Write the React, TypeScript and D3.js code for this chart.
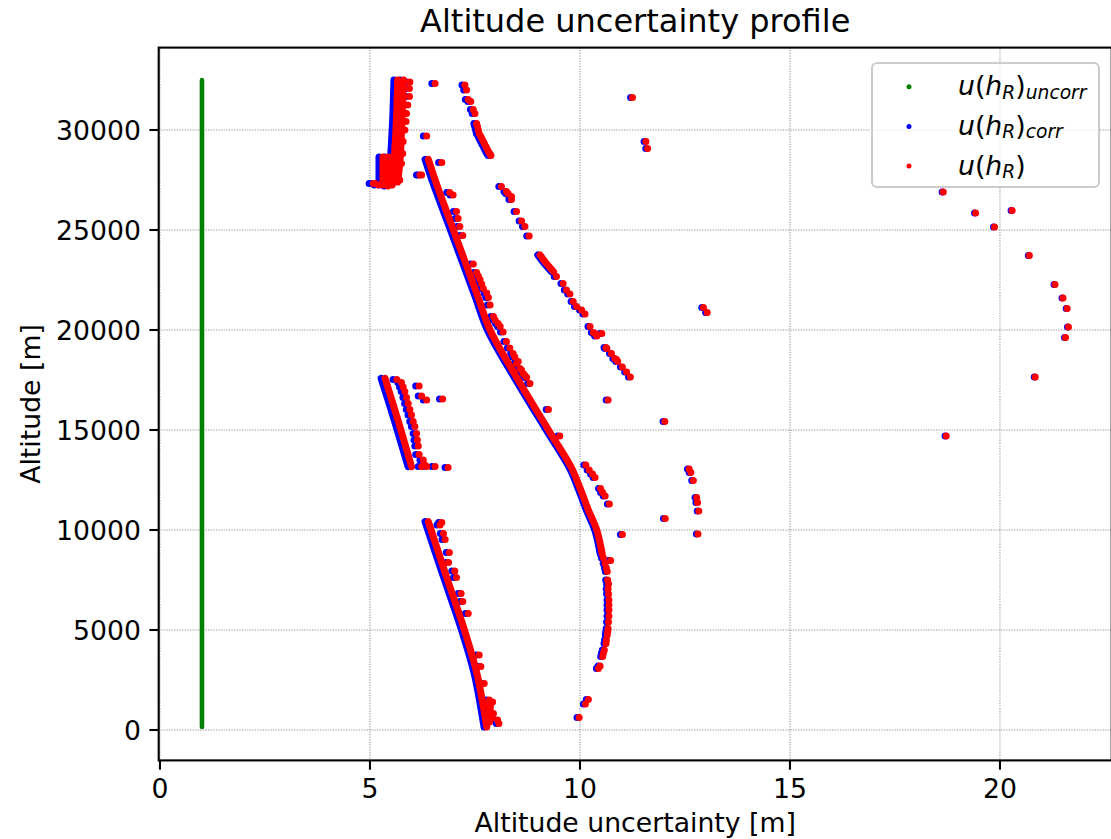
import React from "react";
import * as d3 from "d3";

type P = [number, number]; // [u(h_R) total uncertainty in m, altitude in m]

// Constant uncorrelated uncertainty component (green series)
const U_UNCORR = 1.0;

const X_DOMAIN: [number, number] = [-0.03, 22.66];
const Y_DOMAIN: [number, number] = [-1520, 34120];
const xTicks = [0, 5, 10, 15, 20];
const yTicks = [0, 5000, 10000, 15000, 20000, 25000, 30000];

const TITLE = "Altitude uncertainty profile";
const X_LABEL = "Altitude uncertainty [m]";
const Y_LABEL = "Altitude [m]";

// ---- dense strands (closely packed points, drawn as thick traces) ----
const strandLowerLeft: P[] = [[6.39, 10420], [6.8, 7800], [7.25, 5000], [7.55, 2800], [7.78, 150]];
const strandMidLeft: P[] = [[5.36, 17580], [5.68, 15400], [5.99, 13170]];
const strandTopA: P[] = [[5.66, 32500], [5.63, 30500], [5.58, 28600], [5.53, 27250]];
const strandTopB: P[] = [[5.8, 32500], [5.76, 30500], [5.72, 28600], [5.66, 27400]];
const strandTopC: P[] = [[5.31, 28650], [5.31, 27250]];
const strandTopD: P[] = [[5.44, 28650], [5.43, 27200]];
const strandMain: P[] = [
  [6.39, 28530], [6.58, 27330], [6.93, 25330], [7.28, 23330], [7.57, 21670], [7.86, 20000],
  [8.53, 17500], [9.25, 15000], [9.8, 13100], [10.02, 12000], [10.2, 11000], [10.4, 10000],
  [10.53, 8800],
];
const strandUpperMid: P[] = [[9.05, 23750], [9.2, 23330], [9.37, 22920]];
const strands: P[][] = [strandLowerLeft, strandMidLeft, strandTopA, strandTopB, strandTopC, strandTopD, strandMain, strandUpperMid];

// ---- individual points ----
const dotsTopCluster: P[] = [
  [6.55, 32330], [6.35, 29700], [6.19, 27750], [6.23, 27750], [6.71, 28380],
  [5.08, 27330], [5.12, 27330], [5.2, 27250],
  [5.95, 32400], [5.94, 32080], [5.94, 31670], [5.9, 31250], [5.87, 30830], [5.86, 30420],
  [5.83, 30000], [5.79, 29420], [5.78, 28830], [5.75, 28330], [5.71, 27500],
];
const dotsTopDiagonal: P[] = [
  [7.26, 32250], [7.3, 32000], [7.34, 31530], [7.4, 31420], [7.46, 31030], [7.5, 30830],
  [7.54, 30330], [7.56, 30170], [7.58, 30000], [7.6, 29830], [7.64, 29670], [7.67, 29550],
  [7.7, 29420], [7.73, 29300], [7.76, 29170], [7.79, 29050], [7.82, 28920], [7.84, 28850],
  [7.86, 28800], [7.88, 28720],
];
const dotsTopRight: P[] = [[11.25, 31630], [11.57, 29430], [11.61, 29080]];
const dotsMainSide: P[] = [
  [6.9, 26870], [6.98, 26750], [7.06, 25920], [7.1, 25580], [7.14, 25170], [7.21, 24720],
  [7.46, 23300], [7.54, 22870], [7.58, 22700], [7.62, 22530], [7.66, 22300], [7.7, 22080],
  [7.78, 21850], [7.82, 21620], [7.86, 21250], [7.94, 20670], [7.98, 20500], [8.05, 20330],
  [8.1, 20170], [8.17, 19900], [8.25, 19420], [8.33, 19100], [8.41, 18830], [8.45, 18650],
  [8.49, 18330], [8.53, 18420], [8.57, 18080], [8.61, 18000], [8.65, 17830], [8.69, 17730],
  [8.73, 17630], [8.81, 17330], [9.25, 16030], [9.52, 14700],
];
const dotsUpperMid: P[] = [
  [8.13, 27170], [8.25, 26920], [8.29, 26830], [8.37, 26670], [8.37, 26530], [8.49, 25920],
  [8.61, 25450], [8.69, 25170], [8.79, 24700],
  [9.44, 22670], [9.6, 22330], [9.68, 22000], [9.76, 21800], [9.84, 21420], [9.92, 21170],
  [10.04, 21000], [10.12, 20800], [10.24, 20170], [10.32, 19870], [10.36, 19830], [10.4, 19700],
  [10.52, 19830], [10.62, 19120], [10.64, 19080], [10.75, 18820], [10.83, 18580], [10.87, 18530],
  [10.9, 18420], [11.01, 18150], [11.11, 17900], [11.2, 17650], [10.67, 16500],
  [12.94, 21130], [13.03, 20870], [12.02, 15420],
];
const dotsLowerRight: P[] = [
  [10.14, 13250], [10.22, 13000], [10.3, 12800], [10.36, 12630], [10.49, 12080], [10.54, 11870],
  [10.6, 11700], [10.7, 11300], [11.01, 9780], [12.03, 10570], [12.6, 13050], [12.64, 12880],
  [12.7, 12470], [12.78, 11630], [12.8, 11380], [12.83, 10950], [12.81, 9800],
];
const dotsMainLower: P[] = [
  [10.56, 8600], [10.6, 8330], [10.63, 8100], [10.65, 7920], [10.66, 7500], [10.68, 7300],
  [10.67, 7050], [10.68, 6800], [10.69, 6500], [10.69, 6250], [10.69, 6000], [10.69, 5700],
  [10.68, 5400], [10.67, 5080], [10.66, 4900], [10.65, 4750], [10.63, 4500], [10.62, 4330],
  [10.58, 4000], [10.56, 3850], [10.54, 3670], [10.48, 3200], [10.44, 3080], [10.73, 8480],
  [10.2, 1530], [10.13, 1300], [9.98, 630],
];
const dotsMidLeft: P[] = [
  [5.64, 17530], [5.75, 17370], [5.79, 17150], [5.83, 16920], [5.87, 16620], [5.91, 16330],
  [5.95, 16030], [5.99, 15750], [6.03, 15420], [6.07, 15170], [6.11, 14830], [6.13, 14500],
  [6.15, 14200], [6.17, 13780], [6.27, 13500], [6.31, 13250], [6.23, 13170], [6.35, 13170],
  [6.55, 13170], [6.86, 13130], [6.17, 17200], [6.23, 16700], [6.35, 16500], [6.73, 16550],
];
const dotsLowerLeft: P[] = [
  [6.71, 10370], [6.67, 10250], [6.75, 9830], [6.79, 9530], [6.89, 8880], [6.87, 8370],
  [7.02, 7950], [7.06, 7620], [7.17, 6830], [7.21, 6420], [7.34, 5820], [7.6, 3750],
  [7.64, 3170], [7.72, 2330], [7.84, 1500], [7.92, 1400], [7.82, 1300], [7.87, 1170],
  [7.86, 1000], [7.94, 830], [7.8, 700], [7.9, 600], [8.04, 500], [7.85, 400], [8.07, 330],
];
const dotsFarRight: P[] = [
  [18.65, 26900], [19.42, 25850], [20.29, 25970], [19.87, 25150], [20.7, 23730], [21.31, 22280],
  [21.5, 21600], [21.6, 21070], [21.63, 20150], [21.56, 19620], [20.84, 17650], [18.72, 14700],
];
const dots: P[] = [
  ...dotsTopCluster, ...dotsTopDiagonal, ...dotsTopRight, ...dotsMainSide, ...dotsUpperMid,
  ...dotsLowerRight, ...dotsMainLower, ...dotsMidLeft, ...dotsLowerLeft, ...dotsFarRight,
];

const FONT = "'DejaVu Sans', sans-serif";
const FS = 26.7;
const SUB = 18.7;

export default function App() {
  const W = 1111;
  const H = 839;
  const plot = { left: 158.7, right: 1111.7, top: 47.6, bottom: 760.4 };
  const x = d3.scaleLinear().domain(X_DOMAIN).range([plot.left, plot.right]);
  const y = d3.scaleLinear().domain(Y_DOMAIN).range([plot.bottom, plot.top]);
  const corr = (u: number) => Math.sqrt(Math.max(u * u - U_UNCORR * U_UNCORR, 0));

  const smooth = d3.curveCatmullRom.alpha(0.5);
  const lineTotal = d3.line<P>().x((d) => x(d[0])).y((d) => y(d[1])).curve(smooth);
  const lineCorr = d3.line<P>().x((d) => x(corr(d[0]))).y((d) => y(d[1])).curve(smooth);

  const allAlt = [...strands.flat(), ...dots].map((d) => d[1]);
  const [altMin, altMax] = d3.extent(allAlt) as [number, number];
  const greenPath = d3.line<P>().x((d) => x(d[0])).y((d) => y(d[1]))([[U_UNCORR, altMin], [U_UNCORR, altMax]]) as string;

  const R = 3.5;
  const cx = (plot.left + plot.right) / 2;
  const cy = (plot.top + plot.bottom) / 2;

  const legendRows = [
    { color: "green", sub: "uncorr" },
    { color: "blue", sub: "corr" },
    { color: "red", sub: "" },
  ];

  return (
    <div style={{ position: "absolute", left: 0, top: 0, width: W, height: H, background: "#fff" }}>
      <svg width={W} height={H} style={{ display: "block" }} fontFamily={FONT}>
        <rect x={0} y={0} width={W} height={H} fill="#fff" />
        <defs>
          <clipPath id="plotclip">
            <rect x={plot.left} y={plot.top} width={plot.right - plot.left} height={plot.bottom - plot.top} />
          </clipPath>
        </defs>

        {/* grid */}
        <g stroke="#6e6e6e" strokeWidth={0.8} strokeDasharray="1.2 1.4">
          {xTicks.map((t) => (
            <line key={"gx" + t} x1={x(t)} x2={x(t)} y1={plot.top} y2={plot.bottom} />
          ))}
          {yTicks.map((t) => (
            <line key={"gy" + t} x1={plot.left} x2={plot.right} y1={y(t)} y2={y(t)} />
          ))}
        </g>

        <g clipPath="url(#plotclip)">
          {/* uncorrelated component */}
          <path d={greenPath} stroke="green" strokeWidth={4.6} strokeLinecap="round" fill="none" />
          {/* correlated component */}
          <g>
            {strands.map((s, i) => (
              <path key={"bs" + i} d={lineCorr(s) as string} stroke="blue" strokeWidth={7}
                strokeLinecap="round" strokeLinejoin="round" fill="none" />
            ))}
            {dots.map((d, i) => (
              <circle key={"bd" + i} cx={x(corr(d[0]))} cy={y(d[1])} r={R} fill="blue" />
            ))}
          </g>
          {/* total */}
          <g>
            {strands.map((s, i) => (
              <path key={"rs" + i} d={lineTotal(s) as string} stroke="red" strokeWidth={7}
                strokeLinecap="round" strokeLinejoin="round" fill="none" />
            ))}
            {dots.map((d, i) => (
              <circle key={"rd" + i} cx={x(d[0])} cy={y(d[1])} r={R} fill="red" />
            ))}
          </g>
        </g>

        {/* frame */}
        <rect x={plot.left} y={plot.top} width={plot.right - plot.left} height={plot.bottom - plot.top}
          fill="none" stroke="#000" strokeWidth={2.1} />

        {/* x ticks */}
        <g>
          {xTicks.map((t) => (
            <g key={"xt" + t}>
              <line x1={x(t)} x2={x(t)} y1={plot.bottom} y2={plot.bottom + 9.3} stroke="#000" strokeWidth={2.1} />
              <text x={x(t)} y={798} fontSize={FS} textAnchor="middle" fill="#000">{t}</text>
            </g>
          ))}
        </g>
        {/* y ticks */}
        <g>
          {yTicks.map((t) => (
            <g key={"yt" + t}>
              <line x1={plot.left - 9.3} x2={plot.left} y1={y(t)} y2={y(t)} stroke="#000" strokeWidth={2.1} />
              <text x={141} y={y(t) + 9.7} fontSize={FS} textAnchor="end" fill="#000">{t}</text>
            </g>
          ))}
        </g>

        {/* labels */}
        <text x={cx} y={832} fontSize={FS} textAnchor="middle" fill="#000">{X_LABEL}</text>
        <text transform={`translate(40,${cy}) rotate(-90)`} fontSize={FS} textAnchor="middle" fill="#000">{Y_LABEL}</text>
        <text x={cx} y={32} fontSize={32} textAnchor="middle" fill="#000">{TITLE}</text>

        {/* legend */}
        <g>
          <rect x={872} y={63} width={227} height={124} rx={5} ry={5} fill="#fff" fillOpacity={0.8}
            stroke="#cccccc" strokeWidth={2.1} />
          {legendRows.map((row, i) => {
            const ry = 86.7 + i * 39.7;
            return (
              <g key={"lg" + i}>
                <circle cx={909} cy={ry} r={2.5} fill={row.color} />
                <text x={958} y={ry + 8.5} fontSize={FS} fill="#000">
                  <tspan fontStyle="italic">u</tspan>
                  <tspan>(</tspan>
                  <tspan fontStyle="italic">h</tspan>
                  <tspan fontStyle="italic" fontSize={SUB} dy={3.5}>R</tspan>
                  <tspan dy={-3.5}>)</tspan>
                  {row.sub ? (
                    <tspan fontStyle="italic" fontSize={SUB} dy={3.5}>{row.sub}</tspan>
                  ) : null}
                </text>
              </g>
            );
          })}
        </g>
      </svg>
    </div>
  );
}
